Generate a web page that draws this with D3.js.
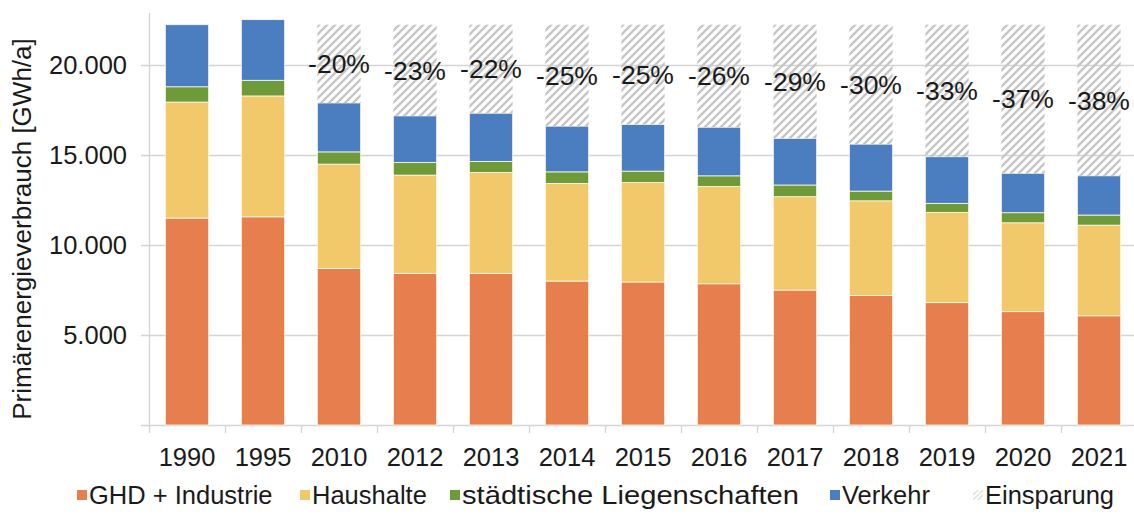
<!DOCTYPE html>
<html>
<head>
<meta charset="utf-8">
<script src="https://cdn.jsdelivr.net/npm/d3@7/dist/d3.min.js"></script>
<style>
  html, body { margin: 0; padding: 0; background: #fff; }
  svg { display: block; font-family: Arial, "Liberation Sans", sans-serif; }
</style>
</head>
<body>
<svg id="chart" width="1134" height="525"></svg>
<script>
// ---- data ----
const years = ["1990","1995","2010","2012","2013","2014","2015","2016","2017","2018","2019","2020","2021"];
const ghdIndustrie = [11500,11570,8700,8430,8430,8000,7950,7850,7500,7200,6800,6300,6070];
const haushalte    = [6450,6720,5800,5460,5610,5430,5530,5410,5190,5260,5020,4940,5040];
const staedtisch   = [850,870,680,700,610,640,630,590,650,540,500,560,560];
const verkehr      = [3450,3370,2720,2590,2680,2540,2590,2700,2590,2610,2590,2190,2180];
const einsparung   = [0,0,4350,5070,4920,5640,5550,5700,6320,6640,7340,8260,8400];
const percentLabels = ["","","-20%","-23%","-22%","-25%","-25%","-26%","-29%","-30%","-33%","-37%","-38%"];
const seriesNames = ["GHD + Industrie","Haushalte","städtische Liegenschaften","Verkehr","Einsparung"];
const yTicks = [5000,10000,15000,20000];
const yTitle = "Primärenergieverbrauch [GWh/a]";

// ---- styles ----
const colors = ["#E77E4D","#F1C96A","#6E9A3A","#4A7EC0"];
const svg = d3.select("#chart");

const defs = svg.append("defs");
const pat = defs.append("pattern")
  .attr("id","hatch").attr("patternUnits","userSpaceOnUse")
  .attr("width",8).attr("height",8);
pat.append("path")
  .attr("d","M-2,2 L2,-2 M0,8 L8,0 M6,10 L10,6")
  .attr("stroke","#c6c6c6").attr("stroke-width",2.4);
const patL = defs.append("pattern")
  .attr("id","hatchLegend").attr("patternUnits","userSpaceOnUse")
  .attr("width",5).attr("height",5);
patL.append("path")
  .attr("d","M-1,1 L1,-1 M0,5 L5,0 M4,6 L6,4")
  .attr("stroke","#dedede").attr("stroke-width",1.4);

const x = d3.scaleBand().domain(years).range([149, 1137])
  .paddingInner(0.43).paddingOuter(0.215);
const y = d3.scaleLinear().domain([0, 22900]).range([425, 13]);

const de = d3.formatLocale({decimal: ",", thousands: ".", grouping: [3], currency: ["", " €"]});
const fmt = de.format(",");

// gridlines
svg.append("g").selectAll("line").data(yTicks).join("line")
  .attr("x1", 141).attr("x2", 1134)
  .attr("y1", d => Math.round(y(d)) + 0.5).attr("y2", d => Math.round(y(d)) + 0.5)
  .attr("stroke", "#d4d4d4").attr("stroke-width", 1.3);

// y axis line
svg.append("line").attr("x1",149.5).attr("x2",149.5).attr("y1",13).attr("y2",433)
  .attr("stroke","#d4d4d4").attr("stroke-width",1.3);
// x baseline
svg.append("line").attr("x1",141).attr("x2",1134).attr("y1",y(0)+0.5).attr("y2",y(0)+0.5)
  .attr("stroke","#d4d4d4").attr("stroke-width",1.3);
// x ticks between categories
const step = x.step();
svg.append("g").selectAll("line").data(years.slice(1)).join("line")
  .attr("x1", d => Math.round(x(d) - (step - x.bandwidth())/2) + 0.5)
  .attr("x2", d => Math.round(x(d) - (step - x.bandwidth())/2) + 0.5)
  .attr("y1", y(0)).attr("y2", y(0) + 8)
  .attr("stroke","#d4d4d4").attr("stroke-width",1.3);

// stacked data
const rows = years.map((yr, i) => ({
  year: yr, a: ghdIndustrie[i], b: haushalte[i], c: staedtisch[i], d: verkehr[i], e: einsparung[i]
}));
const stack = d3.stack().keys(["a","b","c","d","e"]);
const layers = stack(rows);

layers.forEach((layer, li) => {
  svg.append("g").selectAll("rect").data(layer).join("rect")
    .attr("x", d => x(d.data.year))
    .attr("width", x.bandwidth())
    .attr("y", d => y(d[1]))
    .attr("height", d => Math.max(0, y(d[0]) - y(d[1])))
    .attr("fill", li < 4 ? colors[li] : "url(#hatch)")
    .attr("stroke", li < 4 ? "#fff8e8" : "none")
    .attr("stroke-width", li < 4 ? 0.8 : 0);
});

// percent labels in the middle of the Einsparung segment
svg.append("g").selectAll("text").data(layers[4]).join("text")
  .attr("x", d => x(d.data.year) + x.bandwidth()/2)
  .attr("y", d => (y(d[0]) + y(d[1]))/2)
  .attr("dy", "0.35em")
  .attr("text-anchor", "middle")
  .attr("font-size", 26.5)
  .attr("fill", "#1a1a1a")
  .text((d, i) => percentLabels[i]);

// y tick labels
svg.append("g").selectAll("text").data(yTicks).join("text")
  .attr("x", 127).attr("y", d => y(d)).attr("dy","0.35em")
  .attr("text-anchor","end").attr("font-size",25.5).attr("fill","#1a1a1a")
  .text(d => fmt(d));

// x labels
svg.append("g").selectAll("text").data(years).join("text")
  .attr("x", d => x(d) + x.bandwidth()/2).attr("y", 465.5)
  .attr("text-anchor","middle").attr("font-size",25.5).attr("fill","#1a1a1a")
  .text(d => d);

// y title
svg.append("text")
  .attr("transform","translate(31,229) rotate(-90)")
  .attr("text-anchor","middle").attr("font-size",26).attr("fill","#1a1a1a")
  .text(yTitle);

// legend
const legendX = [77, 300, 450, 830, 973];
const legendLen = [0, 0, 337, 0, 0];
const lg = svg.append("g").selectAll("g").data(seriesNames).join("g")
  .attr("transform", (d, i) => `translate(${legendX[i]},490)`);
lg.append("rect").attr("width",10).attr("height",10)
  .attr("fill", (d, i) => i < 4 ? colors[i] : "url(#hatchLegend)");
lg.append("text").attr("x",12).attr("y",13.5)
  .attr("font-size",25.5).attr("fill","#1a1a1a")
  .each(function(d, i) {
    if (legendLen[i]) d3.select(this).attr("textLength", legendLen[i]).attr("lengthAdjust", "spacingAndGlyphs");
  })
  .text(d => d);
</script>
</body>
</html>
